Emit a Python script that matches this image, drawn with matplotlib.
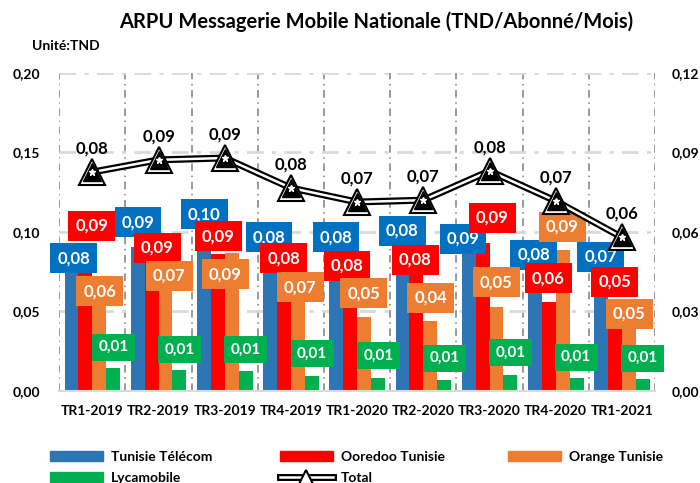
import matplotlib
matplotlib.use("Agg")
import matplotlib.pyplot as plt
import numpy as np
from matplotlib.lines import Line2D
from matplotlib.patches import Patch
from matplotlib.legend_handler import HandlerTuple

plt.rcParams['font.family'] = ['Lato', 'DejaVu Sans']
plt.rcParams['font.weight'] = 'bold'

# data (TND / abonné / mois)
categories = ["TR1-2019", "TR2-2019", "TR3-2019", "TR4-2019", "TR1-2020",
              "TR2-2020", "TR3-2020", "TR4-2020", "TR1-2021"]
tunisie_telecom = [0.082, 0.0906, 0.097, 0.079, 0.080, 0.078, 0.092, 0.080, 0.072]
ooredoo = [0.092, 0.088, 0.086, 0.078, 0.077, 0.078, 0.093, 0.056, 0.052]
orange = [0.062, 0.072, 0.087, 0.068, 0.0466, 0.0443, 0.053, 0.0885, 0.048]
lycamobile = [0.0143, 0.013, 0.0126, 0.0093, 0.0084, 0.0067, 0.0099, 0.008, 0.0074]
total = [0.0826, 0.0872, 0.0879, 0.0766, 0.0713, 0.072, 0.083, 0.0717, 0.058]

series_names = ["Tunisie Télécom", "Ooredoo Tunisie", "Orange Tunisie", "Lycamobile"]

# callout positions (left axis units / category offsets), these were moved by hand in the original
label_y = [
    [0.0835, 0.106, 0.111, 0.0966, 0.0966, 0.1009, 0.0958, 0.0857, 0.0845],
    [0.104, 0.090, 0.0973, 0.0835, 0.0789, 0.0825, 0.109, 0.0709, 0.0688],
    [0.0627, 0.0725, 0.0734, 0.0652, 0.0614, 0.0585, 0.0684, 0.1034, 0.0486],
    [0.0275, 0.0262, 0.0262, 0.0234, 0.0221, 0.0206, 0.024, 0.0212, 0.0206],
]
label_dx = [
    [-0.28, -0.31, -0.31, -0.33, -0.32, -0.32, -0.40, -0.33, -0.32],
    [-0.01, -0.02, -0.10, -0.11, -0.155, -0.12, 0.04, -0.11, -0.11],
    [0.11, 0.16, 0.01, 0.14, 0.10, 0.11, 0.10, 0.10, 0.11],
    [0.32, 0.32, 0.31, 0.32, 0.32, 0.32, 0.32, 0.31, 0.31],
]

bar_colors = ["#2E75B6", "#FF0000", "#ED7D31", "#00B050"]
box_colors = ["#0070C0", "#FF0000", "#ED7D31", "#00B050"]


def fr(v):
    return f"{v:.2f}".replace(".", ",")


fig = plt.figure(figsize=(7, 4.83), dpi=100)
ax = fig.add_axes([0.0847, 0.1905, 0.851, 0.6585])
ax2 = ax.twinx()

x = np.arange(len(categories))
w = 0.21
all_series = [tunisie_telecom, ooredoo, orange, lycamobile]
for i, vals in enumerate(all_series):
    ax.bar(x + (i - 1.5) * w, vals, width=w, color=bar_colors[i], zorder=2)

# data callouts
for i, vals in enumerate(all_series):
    size = 12 if i < 3 else 11
    for j, v in enumerate(vals):
        ax.text(j + label_dx[i][j], label_y[i][j], fr(v), ha="center", va="center",
                color="white", fontsize=size, fontweight="bold", zorder=3 + i,
                bbox=dict(boxstyle="square,pad=0.42", fc=box_colors[i], ec="none"))

ax.set_xlim(-0.5, len(categories) - 0.5)
ax.set_ylim(0, 0.20)
ax.set_yticks(np.arange(0, 0.201, 0.05))
ax.set_yticklabels([fr(t) for t in np.arange(0, 0.201, 0.05)], fontsize=10)
ax.set_xticks(x)
ax.set_xticklabels(categories, fontsize=10)
ax.set_xticks(np.arange(-0.5, len(categories)), minor=True)
ax.tick_params(which="both", length=0)
ax.tick_params(axis="x", pad=10)
ax.tick_params(axis="y", pad=14)
ax.grid(axis="y", which="major", color="#D9D9D9", linewidth=2, linestyle=(0, (6, 3, 1.5, 3)), zorder=0)
ax.grid(axis="x", which="minor", color="#7F7F7F", linewidth=1.1, linestyle=(0, (5, 3, 1, 3)), zorder=0)
ax.set_axisbelow(True)
for s in ["top", "left", "right"]:
    ax.spines[s].set_visible(False)
ax.spines["bottom"].set_color("#D9D9D9")
ax.spines["bottom"].set_linewidth(1.5)

# total on the secondary axis, double line look
ax2.plot(x, total, color="black", linewidth=5, zorder=5, solid_capstyle="round")
ax2.plot(x, total, color="white", linewidth=1.8, zorder=6)
ax2.plot(x, total, linestyle="none", marker="^", markersize=19, markerfacecolor="white",
         markeredgecolor="black", markeredgewidth=1.5, zorder=7)
ax2.plot(x, total, linestyle="none", marker="^", markersize=13, markerfacecolor="black",
         markeredgecolor="black", zorder=8)
ax2.plot(x, total, linestyle="none", marker="*", markersize=5, color="white", zorder=9)
for j, v in enumerate(total):
    ax2.annotate(fr(v), (j, v), xytext=(0, 11), textcoords="offset points",
                 ha="center", va="bottom", fontsize=12, fontweight="bold", zorder=10)
ax2.set_ylim(0, 0.12)
ax2.set_yticks(np.arange(0, 0.121, 0.03))
ax2.set_yticklabels([fr(t) for t in np.arange(0, 0.121, 0.03)], fontsize=10)
ax2.tick_params(length=0, pad=12)
for s in ax2.spines.values():
    s.set_visible(False)

fig.text(0.537, 0.955, "ARPU Messagerie Mobile Nationale (TND/Abonné/Mois)",
         ha="center", va="center", fontsize=14.5, fontweight="bold")
fig.text(0.046, 0.905, "Unité:TND", ha="left", va="center", fontsize=10, fontweight="bold")

# legend: one small legend per entry so the grid matches the original
patches = [Patch(color=c) for c in bar_colors]
total_handle = (Line2D([], [], color="black", linewidth=5),
                Line2D([], [], color="white", linewidth=1.8),
                Line2D([], [], linestyle="none", marker="^", markersize=10, markerfacecolor="white",
                       markeredgecolor="black", markeredgewidth=1.5))
entries = [(patches[0], series_names[0], 50, 457), (patches[1], series_names[1], 280, 457),
           (patches[2], series_names[2], 508, 457), (patches[3], series_names[3], 50, 478),
           (total_handle, "Total", 280, 478)]
for h, lab, px, py in entries:
    leg = fig.legend([h], [lab], loc="center left", bbox_to_anchor=(px / 700, 1 - py / 483),
                     frameon=False, fontsize=10, handlelength=3.8, handleheight=0.65,
                     handletextpad=0.6, borderpad=0, borderaxespad=0,
                     handler_map={tuple: HandlerTuple(ndivide=1)})

fig.savefig("out.png", dpi=100)
